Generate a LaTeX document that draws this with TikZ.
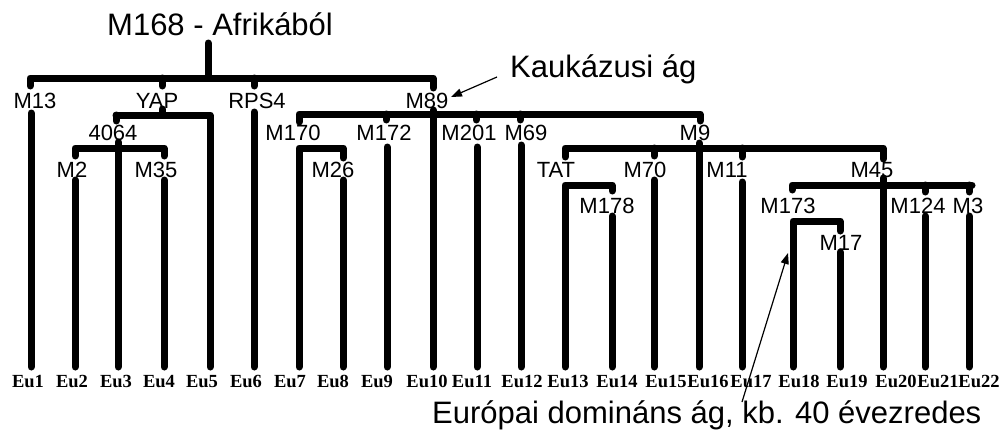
\documentclass[tikz,border=0pt]{standalone}
\usepackage{fontspec}
\setmainfont{Liberation Sans}
\newfontfamily\eufont{Liberation Serif}
\usetikzlibrary{arrows.meta}
\begin{document}
\begin{tikzpicture}[x=1pt,y=-1pt,
  br/.style={line width=7pt,line cap=round,line join=round},
  lab/.style={anchor=base,inner sep=0pt,font=\fontsize{22}{22}\selectfont},
  leaf/.style={anchor=base,inner sep=0pt,font=\eufont\bfseries\fontsize{18.5}{18.5}\selectfont},
  big/.style={anchor=base west,inner sep=0pt,font=\fontsize{31}{31}\selectfont},
  arr/.style={line width=1.2pt,-{Triangle[length=11pt,width=8pt]}}]
\useasboundingbox (0,0) rectangle (1007,439);
% leaves
\foreach \i/\x in {1/28,2/72,3/116,4/159,5/202,6/246,7/290,8/333,9/377,10/427,11/472,12/522,13/568,14/617,15/666,16/708,17/751,18/799,19/847,20/896,21/938,22/979}
  \node[leaf] (Eu\i) at (\x,387) {Eu\i};
% labels
\node[big] (title) at (107,35) {M168 - Afrikából};
\node[big] (kauk) at (510,77) {Kaukázusi ág};
\node[big] (euro) at (432,423) {Európai domináns ág, kb. 40 évezredes};
\node[lab] (M13) at (35,108) {M13};
\node[lab] (YAP) at (157,108) {YAP};
\node[lab] (RPS4) at (257,108) {RPS4};
\node[lab] (M89) at (427,108) {M89};
\node[lab] (n4064) at (113,140) {4064};
\node[lab] (M170) at (293,140) {M170};
\node[lab] (M172) at (384,140) {M172};
\node[lab] (M201) at (469,140) {M201};
\node[lab] (M69) at (526,140) {M69};
\node[lab] (M9) at (695,140) {M9};
\node[lab] (M2) at (72,177) {M2};
\node[lab] (M35) at (156,177) {M35};
\node[lab] (M26) at (333,177) {M26};
\node[lab] (TAT) at (556,177) {TAT};
\node[lab] (M70) at (645,177) {M70};
\node[lab] (M11) at (727,177) {M11};
\node[lab] (M45) at (872,177) {M45};
\node[lab] (M178) at (607,213) {M178};
\node[lab] (M173) at (788,213) {M173};
\node[lab] (M124) at (918,213) {M124};
\node[lab] (M3) at (968,213) {M3};
\node[lab] (M17) at (841,250) {M17};
% top
\draw[br] (208,43) -- (208,78);
\draw[br] (30,86) -- (30,78) -- (433,78) -- (433,88);
\draw[br] (162,78) -- (162,86);
\draw[br] (254,78) -- (254,86);
\draw[br] (31,113) -- (31,367);
% YAP
\draw[br] (162,109) -- (162,115);
\draw[br] (116,115) -- (210,115) -- (210,367);
\draw[br] (116,115) -- (116,121);
\draw[br] (75,156) -- (75,148) -- (164,148) -- (164,156);
\draw[br] (118,142) -- (118,367);
\draw[br] (75,180) -- (75,367);
\draw[br] (164,180) -- (164,367);
% RPS4
\draw[br] (254,112) -- (254,367);
% M89
\draw[br] (299,122) -- (299,114) -- (700,114) -- (700,121);
\draw[br] (386,114) -- (386,120);
\draw[br] (476,114) -- (476,120);
\draw[br] (520,114) -- (520,120);
\draw[br] (433,110) -- (433,367);
\draw[br] (299,367) -- (299,148) -- (343,148) -- (343,158);
\draw[br] (343,180) -- (343,367);
\draw[br] (387,147) -- (387,367);
\draw[br] (477,147) -- (477,367);
\draw[br] (521,145) -- (521,367);
% M9
\draw[br] (699,143) -- (699,367);
\draw[br] (565,157) -- (565,148) -- (883,148) -- (883,159);
\draw[br] (654,148) -- (654,156);
\draw[br] (742,148) -- (742,157);
\draw[br] (565,367) -- (565,185) -- (612,185) -- (612,191);
\draw[br] (612,216) -- (612,367);
\draw[br] (654,180) -- (654,367);
\draw[br] (742,182) -- (742,367);
% M45
\draw[br] (883,178) -- (883,367);
\draw[br] (792,190) -- (792,185) -- (972,185);
\draw[br] (793,367) -- (793,221) -- (840,221) -- (840,231);
\draw[br] (840,252) -- (840,367);
\draw[br] (925,185) -- (925,192);
\draw[br] (925,216) -- (925,367);
\draw[br] (969,185) -- (969,192);
\draw[br] (969,216) -- (969,367);
% arrows
\coordinate (kaukStart) at (497,77);
\coordinate (kaukTip) at (451,97);
\coordinate (euroStart) at (742,402);
\coordinate (euroTip) at (788,253);
\draw[arr] (kaukStart) -- (kaukTip);
\draw[arr] (euroStart) -- (euroTip);
\end{tikzpicture}
\end{document}
